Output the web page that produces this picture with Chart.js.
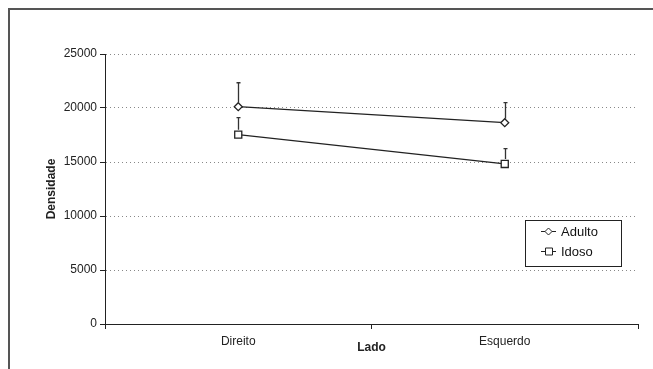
<!DOCTYPE html>
<html><head><meta charset="utf-8">
<script src="https://cdn.jsdelivr.net/npm/chart.js@4/dist/chart.umd.min.js"></script>
<style>html,body{margin:0;padding:0;background:#fff}#w{width:653px;height:369px}</style>
</head><body><div id="w"><canvas id="c" width="653" height="369"></canvas></div>
<script>
const categories = ["Direito", "Esquerdo"];
const seriesNames = ["Adulto", "Idoso"];
const adulto = [20120, 18640];
const idoso = [17530, 14820];
const adultoErrTop = [22340, 20490];
const idosoErrTop = [19100, 16230];
const yTicks = [0, 5000, 10000, 15000, 20000, 25000];

const FONT = "'Liberation Sans', Arial, sans-serif";

const framePlugin = {
  id: 'frame',
  beforeDraw(chart) {
    const ctx = chart.ctx;
    ctx.save();
    ctx.strokeStyle = '#555';
    ctx.lineWidth = 2;
    ctx.beginPath();
    ctx.moveTo(9, 369); ctx.lineTo(9, 9); ctx.lineTo(653, 9);
    ctx.stroke();
    ctx.restore();
  }
};

const errPlugin = {
  id: 'errbars',
  afterDatasetsDraw(chart) {
    const ctx = chart.ctx;
    const y = chart.scales.y;
    const tops = [adultoErrTop, idosoErrTop];
    ctx.save();
    ctx.strokeStyle = '#333';
    ctx.lineWidth = 1.3;
    chart.data.datasets.forEach((ds, di) => {
      const meta = chart.getDatasetMeta(di);
      meta.data.forEach((pt, i) => {
        const yt = y.getPixelForValue(tops[di][i]);
        const x = Math.round(pt.x) + 0.5;
        const r = di === 0 ? 4 : 5;
        ctx.beginPath();
        ctx.moveTo(x, pt.y - r); ctx.lineTo(x, yt);
        ctx.moveTo(x - 2, yt); ctx.lineTo(x + 2, yt);
        ctx.stroke();
      });
    });
    ctx.restore();
  }
};

const legendPlugin = {
  id: 'customLegend',
  afterDraw(chart) {
    const ctx = chart.ctx;
    ctx.save();
    ctx.strokeStyle = '#222';
    ctx.lineWidth = 1;
    ctx.strokeRect(525.5, 220.5, 96, 46);
    ctx.font = '13px ' + FONT;
    ctx.fillStyle = '#111';
    ctx.textBaseline = 'middle';
    const rows = [{y: 231, s: 'd'}, {y: 251, s: 's'}];
    rows.forEach((r, i) => {
      ctx.beginPath();
      ctx.moveTo(541, r.y + 0.5); ctx.lineTo(556, r.y + 0.5);
      ctx.stroke();
      ctx.fillStyle = '#fff';
      ctx.beginPath();
      if (r.s === 'd') {
        ctx.moveTo(548.5, r.y - 3); ctx.lineTo(552, r.y + 0.5); ctx.lineTo(548.5, r.y + 4); ctx.lineTo(545, r.y + 0.5); ctx.closePath();
      } else {
        ctx.rect(545.5, r.y - 3, 7, 7);
      }
      ctx.fill(); ctx.stroke();
      ctx.fillStyle = '#111';
      ctx.fillText(seriesNames[i], 561, r.y + 1);
    });
    ctx.restore();
  }
};

new Chart(document.getElementById('c'), {
  type: 'line',
  data: {
    labels: categories,
    datasets: [
      { label: seriesNames[0], data: adulto, borderColor: '#222', borderWidth: 1.2,
        pointStyle: 'rectRot', pointRadius: 4, pointBackgroundColor: '#fff', pointBorderColor: '#222', pointBorderWidth: 1.3 },
      { label: seriesNames[1], data: idoso, borderColor: '#222', borderWidth: 1.2,
        pointStyle: 'rect', pointRadius: 5, pointBackgroundColor: '#fff', pointBorderColor: '#222', pointBorderWidth: 1.3 }
    ]
  },
  options: {
    responsive: false,
    animation: false,
    events: [],
    layout: { padding: { left: 0, top: 54, right: 15, bottom: 0 } },
    plugins: { legend: { display: false }, tooltip: { enabled: false } },
    scales: {
      x: {
        type: 'category',
        offset: true,
        afterFit(s) { s.height = 45; },
        grid: { offset: true, drawOnChartArea: false, drawTicks: true, tickLength: 5, color: '#222' },
        border: { color: '#222', width: 1 },
        ticks: { color: '#222', font: { family: FONT, size: 12 }, padding: 5 },
        title: { display: true, text: 'Lado', color: '#222', font: { family: FONT, size: 12, weight: 'bold' }, padding: { top: 0, bottom: 14 } }
      },
      y: {
        min: 0, max: 25000,
        afterFit(s) { s.width = 105; },
        afterBuildTicks(s) { s.ticks = yTicks.map(v => ({ value: v })); },
        grid: { color: '#888', tickColor: '#222', tickBorderDash: [1, 0], tickLength: 5, lineWidth: 1 },
        border: { color: '#222', width: 1, dash: [1, 3] },
        ticks: { color: '#222', font: { family: FONT, size: 12 }, padding: 3, callback: v => String(v) },
        title: { display: true, text: 'Densidade', color: '#222', font: { family: FONT, size: 12, weight: 'bold' }, padding: { top: 44, bottom: 0 } }
      }
    }
  },
  plugins: [framePlugin, errPlugin, legendPlugin]
});
</script></body></html>
